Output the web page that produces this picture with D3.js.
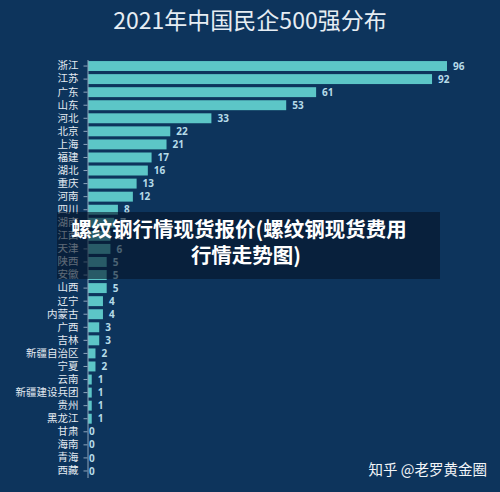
<!DOCTYPE html>
<html>
<head>
<meta charset="utf-8">
<script src="https://cdn.jsdelivr.net/npm/d3@7"></script>
<style>
  html, body { margin: 0; padding: 0; background: #0d345c; }
  svg { display: block; }
</style>
</head>
<body>
<div id="chart"></div>
<script>
'use strict';

// provinces, top to bottom
const provinces = ["浙江","江苏","广东","山东","河北","北京","上海","福建","湖北","重庆","河南","四川",
  "湖南","江西","天津","陕西","安徽","山西","辽宁","内蒙古","广西","吉林","新疆自治区","宁夏",
  "云南","新疆建设兵团","贵州","黑龙江","甘肃","海南","青海","西藏"];
// number of companies per province
const counts = [96,92,61,53,33,22,21,17,16,13,12,8,7,6,6,5,5,5,4,4,3,3,2,2,1,1,1,1,0,0,0,0];

const titleText = "2021年中国民企500强分布";
const overlayLines = ["螺纹钢行情现货报价(螺纹钢现货费用", "行情走势图)"];
const credit = "知乎 @老罗黄金圈";

const data = provinces.map((p, i) => ({province: p, value: counts[i]}));

let width = 500, height = 492;

let svg = d3.select("#chart")
  .append("svg")
    .attr("width", width)
    .attr("height", height);

svg.append("rect")
  .attr("width", width)
  .attr("height", height)
  .attr("fill", "#0d345c");

// title
svg.append("text")
  .attr("x", 250)
  .attr("y", 29)
  .attr("text-anchor", "middle")
  .style("font-family", "'Noto Sans CJK SC', sans-serif")
  .style("font-size", "23px")
  .style("fill", "#e6edf3")
  .text(titleText);

// scales
let x = d3.scaleLinear()
  .domain([0, 96])
  .range([88, 447]);

let y = d3.scaleBand()
  .domain(provinces)
  .range([59.5, 477.5])
  .paddingInner(0.24)
  .paddingOuter(0.12);

// bars
svg.append("g").selectAll("rect")
  .data(data)
  .enter()
  .append("rect")
  .attr("x", x(0))
  .attr("y", d => y(d.province))
  .attr("width", d => x(d.value) - x(0))
  .attr("height", y.bandwidth())
  .attr("fill", "#5cc6c7");

// value labels
svg.append("g").selectAll("text")
  .data(data)
  .enter()
  .append("text")
  .attr("x", d => x(d.value) + (d.value > 0 ? 6 : 1))
  .attr("y", d => y(d.province) + y.bandwidth() / 2)
  .attr("dy", "0.36em")
  .style("font-family", "'Noto Sans', sans-serif")
  .style("font-weight", "bold")
  .style("font-size", "10px")
  .style("fill", "#b6dbe8")
  .text(d => d.value);

// left axis with province names
let axis = svg.append("g")
  .attr("transform", "translate(87.5,0)")
  .call(d3.axisLeft(y).tickSize(4).tickPadding(5).tickSizeOuter(0));

axis.select(".domain").attr("stroke", "#8fa6bd");
axis.selectAll(".tick line").attr("stroke", "#8fa6bd");
axis.selectAll(".tick text")
  .style("font-family", "'Noto Sans CJK SC', sans-serif")
  .style("font-size", "10.5px")
  .style("fill", "#e3eaf1");

// overlay caption box
svg.append("rect")
  .attr("x", 57)
  .attr("y", 212)
  .attr("width", 383)
  .attr("height", 67)
  .attr("fill", "#051426")
  .attr("opacity", 0.6);

svg.append("g").selectAll("text")
  .data(overlayLines)
  .enter()
  .append("text")
  .attr("x", (d, i) => i == 0 ? 239 : 246)
  .attr("y", (d, i) => 237 + i * 26)
  .attr("text-anchor", "middle")
  .style("font-family", "'Noto Sans CJK SC', sans-serif")
  .style("font-weight", "bold")
  .style("font-size", "20.5px")
  .style("fill", "#ffffff")
  .text(d => d);

// credit
svg.append("text")
  .attr("x", 487)
  .attr("y", 475)
  .attr("text-anchor", "end")
  .style("font-family", "'Noto Sans CJK SC', sans-serif")
  .style("font-size", "14.5px")
  .style("fill", "#f2f5f8")
  .text(credit);
</script>
</body>
</html>
